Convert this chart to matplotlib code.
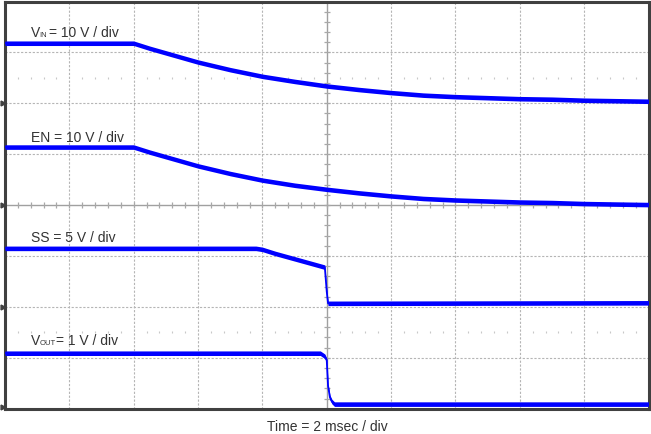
import numpy as np
import matplotlib
matplotlib.use("Agg")
import matplotlib.pyplot as plt

plt.rcParams['font.family'] = ['Liberation Sans', 'DejaVu Sans']

# Scope traces, in screen divisions (x: 0-10 div, y: 0-8 div)
vin_t = [0, 2.0, 2.25, 2.5, 3.0, 3.5, 4.0, 4.5, 5.0, 5.5, 6.0, 6.5, 7.0, 7.5, 8.0, 8.5, 9.0, 9.5, 10]
vin_y = [7.18, 7.18, 7.08, 6.99, 6.81, 6.66, 6.53, 6.43, 6.34, 6.27, 6.21, 6.16, 6.13, 6.11, 6.09, 6.08, 6.06, 6.05, 6.04]

en_t = [0, 2.0, 2.25, 2.5, 3.0, 3.5, 4.0, 4.5, 5.0, 5.5, 6.0, 6.5, 7.0, 7.5, 8.0, 8.5, 9.0, 9.5, 10]
en_y = [5.14, 5.14, 5.04, 4.95, 4.77, 4.62, 4.49, 4.39, 4.31, 4.24, 4.18, 4.13, 4.10, 4.08, 4.06, 4.05, 4.03, 4.02, 4.01]

ss_t = [0, 3.9, 4.0, 4.2, 4.4, 4.6, 4.8, 4.97, 5.0, 5.02, 10]
ss_y = [3.15, 3.15, 3.13, 3.05, 2.98, 2.91, 2.84, 2.78, 2.30, 2.07, 2.08]

vout_t = [0, 4.9, 4.97, 5.0, 5.02, 5.05, 5.08, 5.12, 10]
vout_y = [1.09, 1.09, 1.03, 0.95, 0.45, 0.22, 0.14, 0.09, 0.09]

# channel labels: main text, subscript, rest of text
label_main = ['V', 'EN = 10 V / div', 'SS = 5 V / div', 'V']
label_sub = ['IN', '', '', 'OUT']
label_rest = ['= 10 V / div', '', '', '= 1 V / div']
rest_dx = [18, 0, 0, 25]
label_y = [7.30, 5.24, 3.27, 1.25]
ground_y = [6.0, 4.0, 2.0, 0.03]

traces = [(vin_t, vin_y), (en_t, en_y), (ss_t, ss_y), (vout_t, vout_y)]

fig = plt.figure(figsize=(6.51, 4.34), dpi=100)
ax = fig.add_axes([5 / 651, 25.3 / 434, 643.5 / 651, 407.2 / 434])
ax.set_xlim(0, 10)
ax.set_ylim(0, 8)

grid_c = '#b5b5b5'
for k in range(1, 10):
    if k != 5:
        ax.axvline(k, color=grid_c, lw=0.8, ls=(0, (2, 1.5)), zorder=1)
for k in range(1, 8):
    if k != 4:
        ax.axhline(k, color=grid_c, lw=0.8, ls=(0, (2, 1.5)), zorder=1)
ax.axvline(5, color='#a0a0a0', lw=1.0, zorder=1)
ax.axhline(4, color='#a0a0a0', lw=1.0, zorder=1)

# minor ticks on the centre lines
mx = np.arange(0, 10.01, 0.2)
my = np.arange(0, 8.01, 0.2)
ax.plot(mx, np.full_like(mx, 4), ls='none', marker='|', ms=4, mew=0.9, color='#a8a8a8', zorder=1)
ax.plot(np.full_like(my, 5), my, ls='none', marker='_', ms=4, mew=0.9, color='#a8a8a8', zorder=1)
dots = mx[np.abs(mx - np.round(mx)) > 0.05]
for yy in (1.5, 6.5):
    ax.plot(dots, np.full_like(dots, yy), ls='none', marker='|', ms=2, mew=0.8, color='#c8c8c8', zorder=1)

blue = '#0000ff'
half = 0.045
for t, y in traces:
    t = np.array(t)
    y = np.array(y)
    ax.fill_between(t, y - half, y + half, color=blue, lw=0, zorder=3)
    ax.plot(t, y, color=blue, lw=1.3, zorder=3)

txt_c = '#333333'
for main, sub, rest, dx, yy in zip(label_main, label_sub, label_rest, rest_dx, label_y):
    ax.text(0.40, yy, main, fontsize=10, color=txt_c, va='baseline', ha='left', zorder=4)
    if sub:
        ax.annotate(sub, (0.40, yy), xytext=(9, 0), textcoords='offset pixels',
                    fontsize=5.5, color=txt_c, va='baseline', ha='left', zorder=4)
        ax.annotate(rest, (0.40, yy), xytext=(dx, 0), textcoords='offset pixels',
                    fontsize=10, color=txt_c, va='baseline', ha='left', zorder=4)

ax.plot([-0.03] * len(ground_y), ground_y, ls='none', marker='>', ms=3.5, color='#404040', clip_on=False, zorder=5)

for s in ax.spines.values():
    s.set_color('#404040')
    s.set_linewidth(2.2)
ax.set_xticks([])
ax.set_yticks([])

fig.text(327 / 651, 3 / 434, 'Time = 2 msec / div', fontsize=10, color=txt_c, ha='center', va='baseline')

fig.savefig('out.png', dpi=100)
